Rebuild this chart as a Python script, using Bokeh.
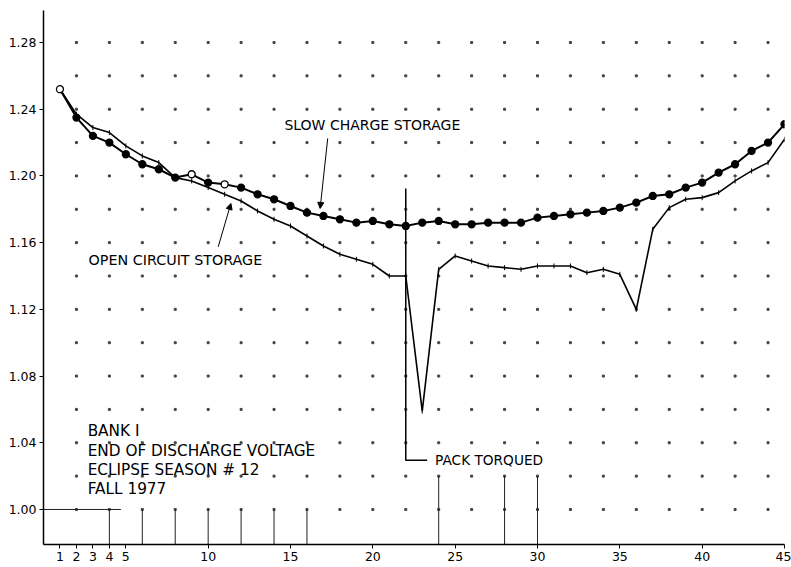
import numpy as np
from bokeh.plotting import figure
from bokeh.models import (ColumnDataSource, Label, Arrow, NormalHead, FixedTicker,
                          Range1d, PrintfTickFormatter)
from bokeh.embed import file_html
from bokeh.resources import INLINE

# ---- data ----
days = list(range(1, 46))
slow_charge = [1.252, 1.235, 1.224, 1.220, 1.213, 1.207, 1.204, 1.199, 1.201, 1.196,
               1.195, 1.193, 1.189, 1.186, 1.182, 1.178, 1.176, 1.174, 1.172, 1.173,
               1.171, 1.170, 1.172, 1.173, 1.171, 1.171, 1.172, 1.172, 1.172, 1.175,
               1.176, 1.177, 1.178, 1.179, 1.181, 1.184, 1.188, 1.189, 1.193, 1.196,
               1.202, 1.207, 1.215, 1.220, 1.231]
open_circuit = [1.252, 1.237, 1.229, 1.226, 1.218, 1.212, 1.208, 1.199, 1.197, 1.193,
                1.189, 1.185, 1.179, 1.174, 1.170, 1.164, 1.158, 1.153, 1.150, 1.147,
                1.140, 1.140, 1.059, 1.144, 1.152, 1.149, 1.146, 1.145, 1.144, 1.146,
                1.146, 1.146, 1.142, 1.144, 1.141, 1.120, 1.168, 1.181, 1.186, 1.187,
                1.190, 1.197, 1.203, 1.208, 1.222]
open_marker_days = [1, 9, 11]
x_ticks = [1, 2, 3, 4, 5, 10, 15, 20, 25, 30, 35, 40, 45]
y_ticks = [1.00, 1.04, 1.08, 1.12, 1.16, 1.20, 1.24, 1.28]
pack_torqued_day = 22
title_lines = ["BANK I", "END OF DISCHARGE VOLTAGE", "ECLIPSE SEASON # 12", "FALL 1977"]

FONT = "DejaVu Sans"

p = figure(width=791, height=567, x_range=Range1d(0, 45), y_range=Range1d(0.979, 1.2992),
           output_backend="svg", toolbar_location=None,
           min_border_left=43, min_border_right=7, min_border_top=10, min_border_bottom=23)
p.outline_line_color = None
p.grid.visible = False
p.background_fill_color = "white"
p.border_fill_color = "white"

# dotted graph-paper grid (dots at intersections)
gx, gy = np.meshgrid(np.arange(2, 45, 2), np.round(np.arange(1.00, 1.2901, 0.02), 2))
p.scatter(gx.ravel(), gy.ravel(), marker="square", size=2, color="#444444")

# solid graph-paper remnants near the bottom
for d in range(4, 17, 2):
    p.line([d, d], [0.979, 1.00], line_color="#222222", line_width=1)
for d in [24, 28, 30]:
    p.line([d, d], [0.979, 1.02], line_color="#222222", line_width=1)
p.line([0, 4.7], [1.00, 1.00], line_color="#222222", line_width=1)

# series
p.line(days, open_circuit, line_color="black", line_width=1.6)
p.scatter(days, open_circuit, marker="dash", angle=np.pi / 2, size=5, color="black")

fills = ["white" if d in open_marker_days else "black" for d in days]
src = ColumnDataSource(dict(x=days, y=slow_charge, f=fills))
p.line("x", "y", source=src, line_color="black", line_width=2)
p.scatter("x", "y", source=src, marker="circle", size=7, fill_color="f",
          line_color="black", line_width=1.3)

# annotations
p.add_layout(Label(x=14.63, y=1.2303, text="SLOW CHARGE STORAGE", text_font=FONT,
                   text_font_size="14px", text_baseline="middle", text_color="black"))
p.add_layout(Arrow(end=NormalHead(size=6, fill_color="black", line_color="black"),
                   x_start=17.26, y_start=1.2225, x_end=16.8, y_end=1.1805,
                   line_color="black", line_width=1))
p.add_layout(Label(x=2.74, y=1.1497, text="OPEN CIRCUIT STORAGE", text_font=FONT,
                   text_font_size="14.3px", text_baseline="middle", text_color="black"))
p.add_layout(Arrow(end=NormalHead(size=6, fill_color="black", line_color="black"),
                   x_start=10.61, y_start=1.1575, x_end=11.38, y_end=1.1835,
                   line_color="black", line_width=1))

p.line([pack_torqued_day, pack_torqued_day, pack_torqued_day + 1.3],
       [1.1925, 1.0295, 1.0295], line_color="black", line_width=1.5)
p.add_layout(Label(x=23.78, y=1.0295, text="PACK TORQUED", text_font=FONT,
                   text_font_size="13.7px", text_baseline="middle", text_color="black"))

for i, t in enumerate(title_lines):
    p.add_layout(Label(x=2.68, y=1.0469 - i * 0.0116, text=t, text_font=FONT,
                       text_font_size="15.3px", text_baseline="middle", text_color="black"))

# axes
p.xaxis.ticker = FixedTicker(ticks=x_ticks)
p.yaxis.ticker = FixedTicker(ticks=y_ticks)
p.yaxis.formatter = PrintfTickFormatter(format="%.2f")
for ax in (p.xaxis, p.yaxis):
    ax.axis_line_color = "black"
    ax.axis_line_width = 1.5
    ax.major_tick_line_color = "black"
    ax.major_tick_in = 0
    ax.major_tick_out = 4
    ax.minor_tick_line_color = None
    ax.major_label_text_font = FONT
    ax.major_label_text_font_size = "12.5px"
    ax.major_label_text_color = "black"
    ax.major_label_standoff = 3

open("out.html", "w").write(file_html(p, INLINE))
